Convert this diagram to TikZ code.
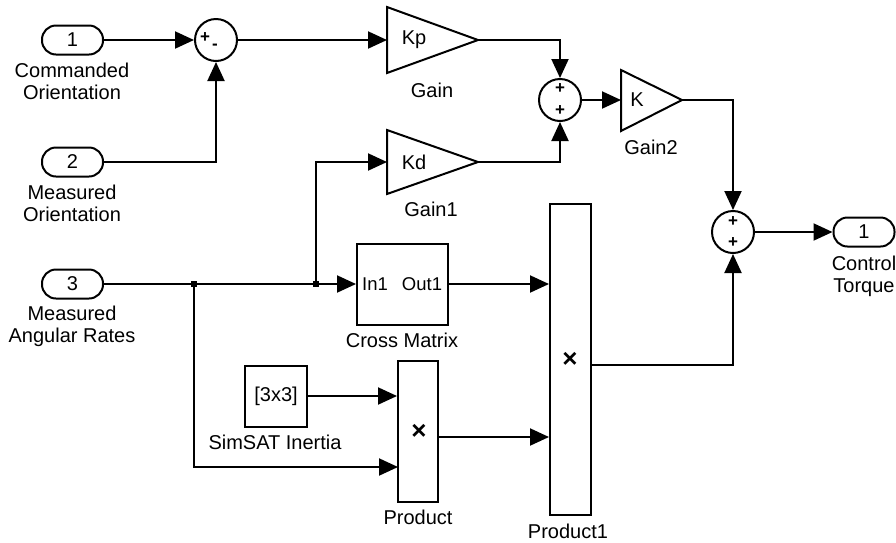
\documentclass[tikz,border=0pt]{standalone}
\usepackage{fontspec}
\setmainfont{Liberation Sans}
\usetikzlibrary{arrows.meta}
\newcommand\lbfont{\fontsize{20}{22}\selectfont}
\newcommand\smfont{\fontsize{18.5}{20}\selectfont}
\newcommand\sgfont{\fontsize{17}{17}\selectfont\bfseries}
\begin{document}
\begin{tikzpicture}[x=1pt,y=-1pt,line width=2pt,
  >={Triangle[length=19pt,width=17pt]},
  port/.style={draw,rounded corners=14pt,minimum width=61pt,minimum height=29pt,inner sep=0pt,font=\lbfont},
  lbl/.style={font=\lbfont,align=center,inner sep=0pt},
  blk/.style={draw,inner sep=0pt},
  sumc/.style={draw,circle,minimum size=42pt,inner sep=0pt},
  sgn/.style={font=\sgfont,inner sep=0pt},
  dotsq/.style={fill,minimum size=6pt,inner sep=0pt},
  txt/.style={font=\lbfont,inner sep=0pt},
  mul/.style={font=\fontsize{26}{26}\selectfont\bfseries,inner sep=0pt}]
\useasboundingbox (0,0) rectangle (896,542);
% ports
\node[port] (p1) at (72.5,40) {1};
\node[port] (p2) at (72.5,162) {2};
\node[port] (p3) at (72.5,284) {3};
\node[port] (po) at (864,232) {1};
\node[lbl] (p1l) at (72,81) {Commanded\\Orientation};
\node[lbl] (p2l) at (72,203) {Measured\\Orientation};
\node[lbl] (p3l) at (72,326) {Measured\\Angular Rates};
\node[lbl] (pol) at (864,276) {Control\\Torque};
% sums
\node[sumc] (s1) at (216,40) {};
\node[sgn] (s1a) at (205,38) {+};
\node[sgn] (s1b) at (215,47) {-};
\node[sumc] (s2) at (560,100) {};
\node[sgn] (s2a) at (560,89) {+};
\node[sgn] (s2b) at (560,111) {+};
\node[sumc] (s3) at (733,232) {};
\node[sgn] (s3a) at (733,222) {+};
\node[sgn] (s3b) at (733,243) {+};
% gains
\draw (387,7) -- (478,40) -- (387,73) -- cycle;
\coordinate (kpin) at (387,40);
\coordinate (kpout) at (478,40);
\node[txt] (kp) at (414,40) {Kp};
\node[lbl] (kpl) at (432,90) {Gain};
\draw (387,130) -- (478,162) -- (387,194) -- cycle;
\coordinate (kdin) at (387,162);
\coordinate (kdout) at (478,162);
\node[txt] (kd) at (414,162) {Kd};
\node[lbl] (kdl) at (431,209) {Gain1};
\draw (621,70) -- (682,100) -- (621,131) -- cycle;
\coordinate (kin) at (621,100);
\coordinate (kout) at (682,100);
\node[txt] (kk) at (637,100) {K};
\node[lbl] (kl) at (651,147) {Gain2};
% blocks
\node[blk,minimum width=91pt,minimum height=81pt] (cm) at (402.5,284) {};
\node[font=\smfont,inner sep=0pt] (cmi) at (375,284) {In1};
\node[font=\smfont,inner sep=0pt] (cmo) at (422,284) {Out1};
\node[lbl] (cml) at (402,340) {Cross Matrix};
\node[blk,minimum width=62pt,minimum height=61pt,font=\lbfont] (ci) at (276,396) {[3x3]};
\node[lbl] (cil) at (275,442) {SimSAT Inertia};
\node[blk,minimum width=40pt,minimum height=141pt] (pr) at (418,431.5) {};
\node[mul] (prx) at (419,432) {×};
\node[lbl] (prl) at (418,517) {Product};
\node[blk,minimum width=41pt,minimum height=311pt] (pr1) at (570.5,359.5) {};
\node[mul] (pr1x) at (570,360) {×};
\node[lbl] (pr1l) at (568,531) {Product1};
% branch points
\node[dotsq] (b1) at (194,284) {};
\node[dotsq] (b2) at (316,284) {};
\coordinate (prin2) at (398,467);
\coordinate (prout) at (438,437);
\coordinate (pr1out) at (591,365);
% connectors
\draw[->] (p1.east) -- (s1.west);
\draw[->] (p2.east) -| (s1.south);
\draw[->] (s1.east) -- (kpin);
\draw[->] (kpout) -| (s2.north);
\draw[->] (kdout) -| (s2.south);
\draw[->] (s2.east) -- (kin);
\draw[->] (kout) -| (s3.north);
\draw[->] (s3.east) -- (po.west);
\draw (p3.east) -- (b1.center) -- (b2.center);
\draw[->] (b2.center) -- (cm.west);
\draw[->] (b2.center) |- (kdin);
\draw[->] (b1.center) |- (prin2);
\draw[->] (ci.east) -- (ci.east -| pr.west);
\draw[->] (prout) -- (prout -| pr1.west);
\draw[->] (cm.east) -- (cm.east -| pr1.west);
\draw[->] (pr1out) -| (s3.south);
\end{tikzpicture}
\end{document}
